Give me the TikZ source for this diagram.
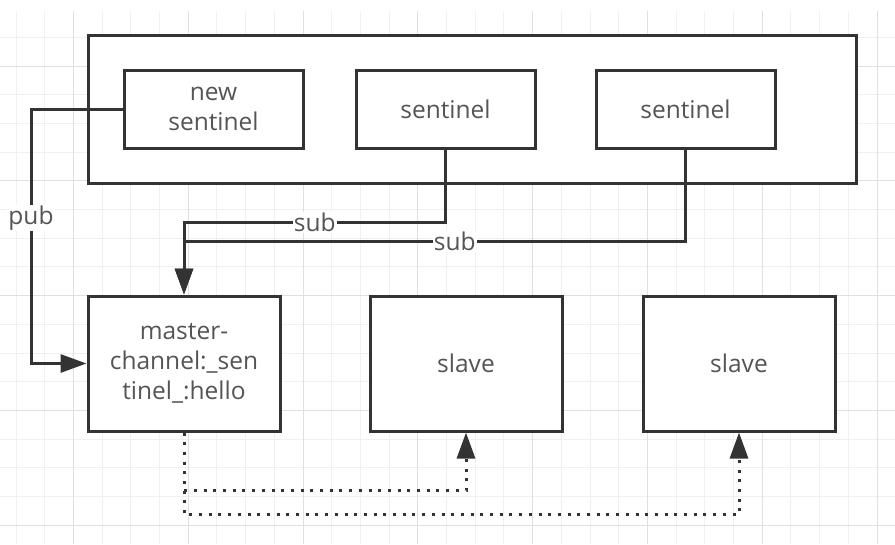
\documentclass[tikz,border=0pt]{standalone}
\usepackage{fontspec}
\setmainfont{Open Sans}
\usetikzlibrary{
  arrows.meta, % for the filled Triangle tips
  positioning, % for relative positioning of the boxes
}
\definecolor{linecol}{HTML}{333333}
\definecolor{textcol}{HTML}{555555}
\definecolor{minorgrid}{HTML}{F0F0F0}
\definecolor{majorgrid}{HTML}{E0E0E0}
\tikzset{
  box/.style={ % style for every box
    rectangle,draw=linecol,line width=3pt, % drawn as a thick dark rectangle
    fill=white,
    text=textcol,align=center,
    font=\fontsize{24.5}{30}\selectfont,
    inner sep=0pt, % the size is set by minimum width/height
  },
  sentbox/.style={ % style for the sentinels
    box,minimum width=179pt,minimum height=78pt,
  },
  redisbox/.style={ % style for the master and the slaves
    box,minimum width=192pt,minimum height=135pt,
  },
  group/.style={ % style for the group round the sentinels
    rectangle,draw=linecol,line width=3pt,fill=white,
    minimum width=768pt,minimum height=148pt,
  },
  conn/.style={ % style for the connections
    -{Triangle[length=26pt,width=18pt]}, % filled triangle tip
    draw=linecol,line width=3pt,
  },
  sync/.style={ % style for the master to slave links
    conn,dash pattern=on 3pt off 6.7pt,
  },
  lbl/.style={ % style for the connection labels
    fill=white,text=textcol,inner sep=1pt,
    font=\fontsize{24.5}{28}\selectfont,
  },
  minor/.style={draw=minorgrid,line width=1pt},
  major/.style={draw=majorgrid,line width=1pt},
}

\begin{document}
\begin{tikzpicture}[x=1pt,y=-1pt]
  \useasboundingbox (0,0) rectangle (895,544);
  % background grid
  \foreach \k in {0,...,30}
    \draw[minor] ({16+28.7*\k},11) -- ({16+28.7*\k},544);
  \foreach \k in {1,...,18}
    \draw[minor] (0,{8.6+28.7*\k}) -- (895,{8.6+28.7*\k});
  \foreach \k in {2,6,...,30}
    \draw[major] ({16+28.7*\k},11) -- ({16+28.7*\k},544);
  \foreach \k in {2,6,...,18}
    \draw[major] (0,{8.6+28.7*\k}) -- (895,{8.6+28.7*\k});

  \node[group] (grp) at (472,109) {};
  \node[sentbox] (newsent) at (213.5,109)
  {new\\sentinel};
  \node[sentbox,right=50pt of newsent] (sent1)
  {sentinel};
  \node[sentbox,right=58pt of sent1] (sent2)
  {sentinel};

  \node[redisbox] (master) at (184,363.5)
  {master-\\channel:\_sen\\tinel\_:hello};
  \node[redisbox,right=87pt of master] (slave1)
  {slave};
  \node[redisbox,right=78pt of slave1] (slave2)
  {slave};

  \draw[conn] (newsent.west) -- ++(-91.5,0) |- node[lbl,pos=0.214] {pub} (master.west);
  \draw[conn] (sent1.south) -- ++(0,73) -| node[lbl,pos=0.25] {sub} (master.north);
  \draw[conn] (sent2.south) -- ++(0,92) -| node[lbl,pos=0.23] {sub} (master.north);

  \draw[sync] (master.south) -- ++(0,58) -| (slave1.south);
  \draw[sync] (master.south) -- ++(0,82) -| (slave2.south);
\end{tikzpicture}
\end{document}
